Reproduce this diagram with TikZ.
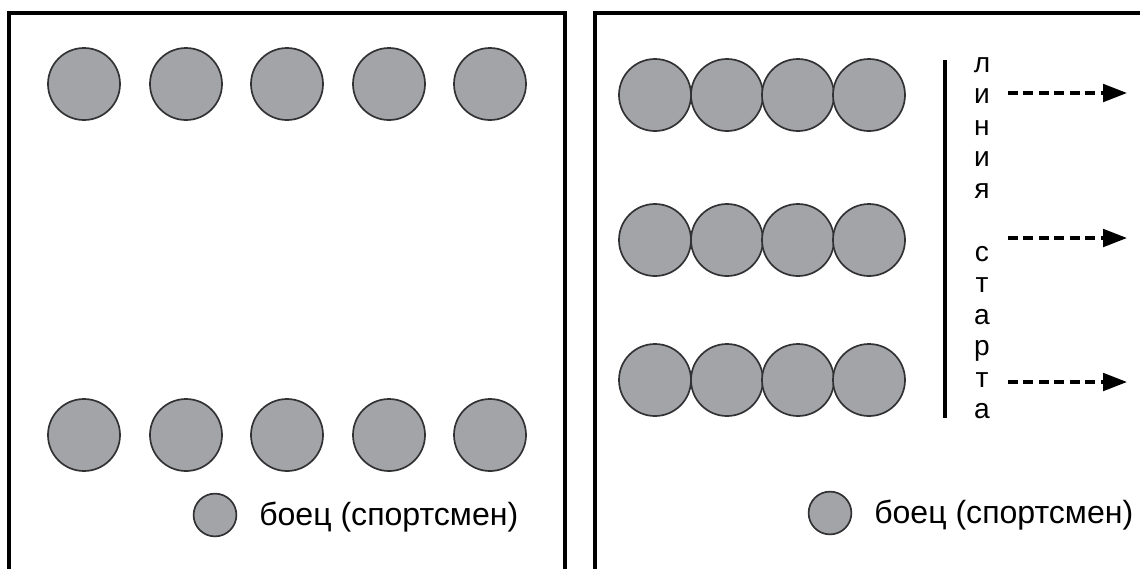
\documentclass[tikz,border=0pt]{standalone}
\usepackage{fontspec}
\setmainfont{Liberation Sans}
\usepackage{xcolor}
\usetikzlibrary{arrows.meta}
\usetikzlibrary{calc}

\definecolor{fighterfill}{RGB}{162,164,168}
\definecolor{fighterdraw}{RGB}{50,50,52}

\begin{document}
\begin{tikzpicture}[
  x=0.025cm, y=-0.025cm,
  fighter/.style={
    circle,
    draw=fighterdraw,
    fill=fighterfill,
    line width=1.2pt,
    minimum size=1.8cm,
    inner sep=0pt,
    outer sep=0pt
  },
  legenddot/.style={
    fighter,
    minimum size=1.07cm
  },
  legendtext/.style={
    anchor=west,
    inner sep=0pt,
    font=\fontsize{22.8}{26}\selectfont
  },
  frame/.style={draw=black, line width=2.2pt},
  runarr/.style={
    -{Triangle[length=17pt, width=12.5pt]},
    line width=2.3pt,
    dash pattern=on 7pt off 4pt
  }
]
\useasboundingbox (0,0) rectangle (1140,568);

% ===================== (A) Two rows =====================
\draw[frame] (9,13) rectangle (565,620);

\node[fighter] (a1) at (84,84)  {};
\node[fighter] (a2) at (186,84) {};
\node[fighter] (a3) at (287,84) {};
\node[fighter] (a4) at (389,84) {};
\node[fighter] (a5) at (490,84) {};

\node[fighter] (b1) at (84,435)  {};
\node[fighter] (b2) at (186,435) {};
\node[fighter] (b3) at (287,435) {};
\node[fighter] (b4) at (389,435) {};
\node[fighter] (b5) at (490,435) {};

\node[legenddot]  (legA)    at (215,515) {};
\node[legendtext] (legAtxt) at (259,517) {боец (спортсмен)};

% ===================== (B) Three files at the start line =====================
\draw[frame] (595,13) rectangle (1170,620);

\node[fighter] (r11) at (655,95) {};
\node[fighter] (r12) at (727,95) {};
\node[fighter] (r13) at (798,95) {};
\node[fighter] (r14) at (869,95) {};

\node[fighter] (r21) at (655,240) {};
\node[fighter] (r22) at (727,240) {};
\node[fighter] (r23) at (798,240) {};
\node[fighter] (r24) at (869,240) {};

\node[fighter] (r31) at (655,380) {};
\node[fighter] (r32) at (727,380) {};
\node[fighter] (r33) at (798,380) {};
\node[fighter] (r34) at (869,380) {};

% start line
\coordinate (ltop) at (945,60);
\coordinate (lbot) at (945,418);
\draw[line width=2.2pt] (ltop) -- (lbot);

\node[align=center, inner sep=0pt,
      font=\fontsize{20}{22.4}\selectfont] (startlbl) at (982,238)
  {л\\и\\н\\и\\я\\\mbox{}\\с\\т\\а\\р\\т\\а};

\coordinate (s1) at (1008,93);
\coordinate (e1) at (1127,93);
\coordinate (s2) at (1008,238);
\coordinate (e2) at (1127,238);
\coordinate (s3) at (1008,382);
\coordinate (e3) at (1127,382);

\draw[runarr] (s1) -- (e1);
\draw[runarr] (s2) -- (e2);
\draw[runarr] (s3) -- (e3);

\node[legenddot]  (legB)    at (830,513) {};
\node[legendtext] (legBtxt) at (874,515) {боец (спортсмен)};

\end{tikzpicture}
\end{document}
